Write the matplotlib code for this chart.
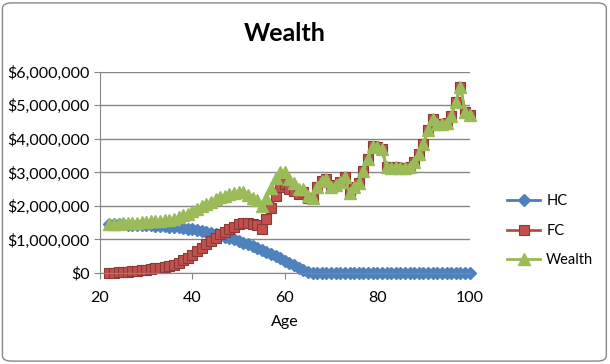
import matplotlib.pyplot as plt
import matplotlib
from matplotlib.patches import FancyBboxPatch
from matplotlib.ticker import FuncFormatter
import numpy as np

matplotlib.rcParams.update({'font.family': ['Lato', 'DejaVu Sans'], 'font.size': 10.5})

ages = list(range(22, 101))
# values in $ millions
hc = [1.45, 1.45, 1.45, 1.45, 1.44, 1.44, 1.43, 1.43, 1.42, 1.42,
      1.41, 1.40, 1.39, 1.38, 1.37, 1.36, 1.34, 1.32, 1.30, 1.27,
      1.24, 1.21, 1.18, 1.15, 1.12, 1.08, 1.04, 1.00, 0.95, 0.90,
      0.85, 0.80, 0.75, 0.70, 0.64, 0.58, 0.52, 0.45, 0.37, 0.30,
      0.23, 0.16, 0.10, 0.04, 0.00] + [0.0] * 34
fc = [0.00, 0.01, 0.02, 0.03, 0.04, 0.05, 0.07, 0.08, 0.10, 0.12,
      0.14, 0.16, 0.18, 0.20, 0.24, 0.30, 0.38, 0.45, 0.55, 0.65,
      0.75, 0.85, 0.95, 1.05, 1.15, 1.22, 1.30, 1.38, 1.46, 1.50,
      1.48, 1.45, 1.42, 1.30, 1.60, 1.95, 2.30, 2.55, 2.65, 2.50,
      2.45, 2.35, 2.40, 2.25, 2.25, 2.55, 2.75, 2.80, 2.55, 2.62,
      2.70, 2.85, 2.38, 2.55, 2.68, 3.05, 3.40, 3.78, 3.75, 3.70,
      3.15, 3.12, 3.15, 3.12, 3.13, 3.15, 3.30, 3.55, 3.85, 4.25,
      4.58, 4.45, 4.45, 4.48, 4.68, 5.10, 5.55, 4.80, 4.70]
wealth = [1.45, 1.46, 1.47, 1.48, 1.48, 1.49, 1.50, 1.51, 1.52, 1.54,
          1.55, 1.56, 1.57, 1.58, 1.61, 1.66, 1.72, 1.77, 1.85, 1.92,
          1.99, 2.06, 2.13, 2.20, 2.27, 2.30, 2.34, 2.38, 2.41, 2.40,
          2.33, 2.25, 2.17, 2.00, 2.24, 2.53, 2.82, 3.00, 3.02, 2.80,
          2.68, 2.51, 2.50, 2.29, 2.25, 2.55, 2.75, 2.80, 2.55, 2.62,
          2.70, 2.85, 2.38, 2.55, 2.68, 3.05, 3.40, 3.78, 3.75, 3.70,
          3.15, 3.12, 3.15, 3.12, 3.13, 3.15, 3.30, 3.55, 3.85, 4.25,
          4.58, 4.45, 4.45, 4.48, 4.68, 5.10, 5.55, 4.80, 4.70]

fig = plt.figure(figsize=(6.1, 3.64), dpi=100)
ax = fig.add_axes([0.164, 0.25, 0.606, 0.553])

m = 1e6
ax.plot(ages, np.array(hc) * m, color='#4A7EBB', marker='D', ms=6.2,
        mfc='#4F81BD', mec='#4F81BD', lw=2, label='HC', clip_on=False)
ax.plot(ages, np.array(fc) * m, color='#BE4B48', marker='s', ms=7.3,
        mfc='#C0504D', mec='#8C3836', mew=0.8, lw=2, label='FC', clip_on=False)
ax.plot(ages, np.array(wealth) * m, color='#98B954', marker='^', ms=8,
        mfc='#9BBB59', mec='#9BBB59', lw=2, label='Wealth', clip_on=False)

ax.set_xlim(20, 100)
ax.set_ylim(0, 6e6)
ax.set_xticks([20, 40, 60, 80, 100])
ax.set_yticks(np.arange(0, 6.01e6, 1e6))
ax.yaxis.set_major_formatter(FuncFormatter(lambda v, p: '${:,.0f}'.format(v)))
ax.yaxis.grid(True, color='#868686', lw=1)
ax.set_axisbelow(True)
for s in ['top', 'right']:
    ax.spines[s].set_visible(False)
for s in ['left', 'bottom']:
    ax.spines[s].set_color('#868686')
ax.tick_params(colors='#868686', labelcolor='black', length=4, labelsize=11.5)
ax.tick_params(axis='x', pad=9)
ax.set_xlabel('Age', fontsize=11.5, labelpad=7)

ax.set_title('Wealth', fontsize=18, fontweight='bold', pad=22)

ax.legend(loc='center left', bbox_to_anchor=(1.065, 0.21), frameon=False,
          handlelength=2.3, handletextpad=0.4, labelspacing=1.05, fontsize=10.5)

fig.patches.append(FancyBboxPatch((0.004, 0.008), 0.99, 0.984, boxstyle='round,pad=0,rounding_size=0.015',
                                  transform=fig.transFigure, fill=False, ec='#888888', lw=1))

plt.savefig('out.png', dpi=100)
plt.close()
